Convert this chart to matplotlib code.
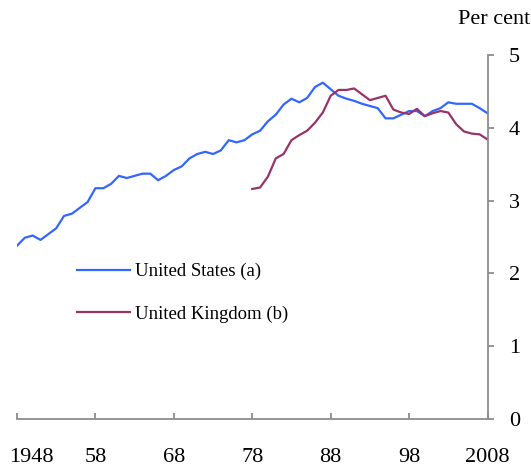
import matplotlib
matplotlib.use('Agg')
import matplotlib.pyplot as plt
import matplotlib.transforms as mtransforms

# Data (per cent)
us_years = list(range(1948, 2009))
us_values = [2.38, 2.49, 2.52, 2.46, 2.54, 2.62, 2.79, 2.82, 2.90, 2.98,
             3.17, 3.17, 3.23, 3.34, 3.31, 3.34, 3.37, 3.37, 3.28, 3.34,
             3.42, 3.47, 3.58, 3.64, 3.67, 3.64, 3.69, 3.83, 3.80, 3.83,
             3.91, 3.96, 4.09, 4.18, 4.32, 4.40, 4.35, 4.41, 4.56, 4.62,
             4.53, 4.44, 4.40, 4.37, 4.33, 4.30, 4.27, 4.13, 4.13, 4.18,
             4.23, 4.23, 4.16, 4.23, 4.27, 4.35, 4.33, 4.33, 4.33, 4.27,
             4.20]

uk_years = list(range(1978, 2009))
uk_values = [3.16, 3.18, 3.33, 3.58, 3.64, 3.83, 3.90, 3.96, 4.07, 4.21,
             4.44, 4.52, 4.52, 4.54, 4.46, 4.38, 4.41, 4.44, 4.25, 4.21,
             4.19, 4.26, 4.16, 4.20, 4.23, 4.21, 4.05, 3.95, 3.92, 3.91,
             3.84]

x_ticks = [1948, 1958, 1968, 1978, 1988, 1998, 2008]
x_tick_labels = ['1948', '58', '68', '78', '88', '98', '2008']
y_ticks = [0, 1, 2, 3, 4, 5]

us_color = '#3366ff'
uk_color = '#993366'
axis_color = '#8c8c8c'

plt.rcParams['font.family'] = ['Liberation Serif', 'DejaVu Serif']

W, H = 531, 470
fig = plt.figure(figsize=(W / 100, H / 100), dpi=100)
left, right = 17 / W, 487.5 / W
bottom, top = 1 - 419 / H, 1 - 55 / H
ax = fig.add_axes([left, bottom, right - left, top - bottom])

ax.plot(us_years, us_values, color=us_color, lw=1.6, label='United States (a)')
ax.plot(uk_years, uk_values, color=uk_color, lw=1.6, label='United Kingdom (b)')

ax.set_xlim(1948, 2008)
ax.set_ylim(0, 5)

for side in ['left', 'top']:
    ax.spines[side].set_visible(False)
for side in ['right', 'bottom']:
    ax.spines[side].set_color(axis_color)
    ax.spines[side].set_linewidth(1.3)

ax.yaxis.tick_right()
ax.set_yticks(y_ticks)
ax.tick_params(axis='y', direction='out', length=4.5, width=1.3,
               color=axis_color, labelsize=16, pad=11)
ax.set_xticks(x_ticks)
ax.set_xticklabels(x_tick_labels)
ax.tick_params(axis='x', direction='in', length=4.5, width=1.3,
               color=axis_color, labelsize=16, pad=21)

# first label sits a bit to the right of its tick
shift = mtransforms.ScaledTranslation(14 / 100, 0, fig.dpi_scale_trans)
first = ax.get_xticklabels()[0]
first.set_transform(first.get_transform() + shift)

fig.text(1 - 1 / W, 1 - 20 / H, 'Per cent', ha='right', va='center', fontsize=16)

ax.legend(loc='center left', bbox_to_anchor=(77 / W, 1 - 293 / H),
          bbox_transform=fig.transFigure, frameon=False, fontsize=13.5,
          handlelength=2.8, handletextpad=0.3, labelspacing=1.35,
          borderpad=0, borderaxespad=0)

fig.savefig('out.png', dpi=100)
